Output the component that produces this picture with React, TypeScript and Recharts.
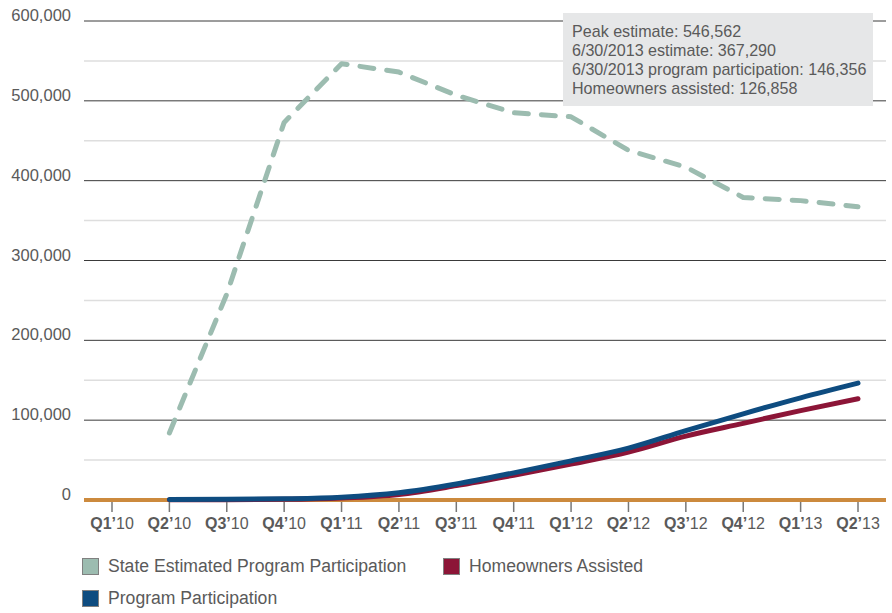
import React from 'react';
import { LineChart, Line, XAxis, YAxis, ReferenceLine } from 'recharts';

const quarters = ["Q1'10", "Q2'10", "Q3'10", "Q4'10", "Q1'11", "Q2'11", "Q3'11", "Q4'11", "Q1'12", "Q2'12", "Q3'12", "Q4'12", "Q1'13", "Q2'13"];
const stateEstimate = [null, 84000, 258000, 473000, 546562, 536000, 507000, 485000, 480000, 438000, 417000, 379000, 375000, 367290];
const programParticipation = [null, 500, 800, 1500, 3500, 9000, 20000, 34000, 49000, 65000, 87000, 108000, 128000, 146356];
const homeownersAssisted = [null, 200, 400, 800, 2500, 7000, 18000, 31000, 45000, 60000, 80000, 96000, 112000, 126858];
const majorTicks = [0, 100000, 200000, 300000, 400000, 500000, 600000];
const minorTicks = [50000, 150000, 250000, 350000, 450000, 550000];

const annotation = [
    'Peak estimate: 546,562',
    '6/30/2013 estimate: 367,290',
    '6/30/2013 program participation: 146,356',
    'Homeowners assisted: 126,858',
];

const FONT = "'Liberation Sans', Arial, sans-serif";
const GREEN = '#9cbcb0';
const BLUE = '#0e4c80';
const RED = '#8c1537';
const ORANGE = '#cc8a3e';
const TEXT = '#5a5a5a';

const data = quarters.map((q, i) => ({
    q,
    estimate: stateEstimate[i],
    participation: programParticipation[i],
    assisted: homeownersAssisted[i],
}));

const YTick = (props: any) => {
    const { y, payload } = props;
    return (
        <text x={71} y={y - 6} textAnchor="end" dominantBaseline="central" fill={TEXT} fontSize={16.5} fontFamily={FONT}>
            {payload.value.toLocaleString('en-US')}
        </text>
    );
};

const XTick = (props: any) => {
    const { x, payload } = props;
    const [head, yr] = payload.value.split("'");
    return (
        <text x={x} y={523} textAnchor="middle" dominantBaseline="central" fill={TEXT} fontSize={16} fontFamily={FONT}>
            <tspan fontWeight="bold">{head}’</tspan>
            <tspan>{yr}</tspan>
        </text>
    );
};

const LegendItem = ({ color, label }: { color: string; label: string }) => (
    <div style={{ display: 'flex', alignItems: 'center', height: 17 }}>
        <div style={{ width: 15, height: 15, background: color, border: '1px solid #808080', marginRight: 9 }} />
        <span>{label}</span>
    </div>
);

export default function App() {
    return (
        <div style={{ position: 'absolute', left: 0, top: 0, width: 892, height: 613, background: '#fff', fontFamily: FONT }}>
            <LineChart width={892} height={540} data={data} margin={{ top: 21, right: 6, bottom: 5, left: 0 }}>
                {minorTicks.map((v) => (
                    <ReferenceLine key={`minor-${v}`} y={v} stroke="#dedede" strokeWidth={1.5} />
                ))}
                {majorTicks.filter((v) => v > 0).map((v) => (
                    <ReferenceLine key={`major-${v}`} y={v} stroke="#3a3a3a" strokeWidth={1} />
                ))}
                <ReferenceLine y={0} stroke={ORANGE} strokeWidth={4} />
                <XAxis
                    dataKey="q"
                    scale="point"
                    padding={{ left: 28, right: 28 }}
                    axisLine={false}
                    tickLine={{ stroke: '#777', strokeWidth: 1.5, transform: 'translate(0, 2)' }}
                    tickSize={10}
                    height={35}
                    interval={0}
                    tick={<XTick />}
                />
                <YAxis
                    domain={[0, 600000]}
                    ticks={majorTicks}
                    width={84}
                    axisLine={false}
                    tickLine={false}
                    tick={<YTick />}
                />
                <Line type="linear" dataKey="estimate" stroke={GREEN} strokeWidth={5} strokeDasharray="14 13" strokeLinecap="round" strokeLinejoin="round" dot={false} isAnimationActive={false} />
                <Line type="monotone" dataKey="assisted" stroke={RED} strokeWidth={5} strokeLinecap="round" dot={false} isAnimationActive={false} />
                <Line type="monotone" dataKey="participation" stroke={BLUE} strokeWidth={5} strokeLinecap="round" dot={false} isAnimationActive={false} />
            </LineChart>

            <div style={{ position: 'absolute', left: 563, top: 13, width: 301, height: 76, padding: '8.5px 0 8.5px 9px', background: '#e6e7e8', color: TEXT, fontSize: 16.1, lineHeight: '19px', whiteSpace: 'nowrap' }}>
                {annotation.map((t) => (
                    <div key={t}>{t}</div>
                ))}
            </div>

            <div style={{ position: 'absolute', left: 82, top: 558, color: TEXT, fontSize: 17.6, lineHeight: '17px', whiteSpace: 'nowrap' }}>
                <div style={{ display: 'flex' }}>
                    <div style={{ width: 361 }}>
                        <LegendItem color={GREEN} label="State Estimated Program Participation" />
                    </div>
                    <LegendItem color={RED} label="Homeowners Assisted" />
                </div>
                <div style={{ marginTop: 15 }}>
                    <LegendItem color={BLUE} label="Program Participation" />
                </div>
            </div>
        </div>
    );
}
